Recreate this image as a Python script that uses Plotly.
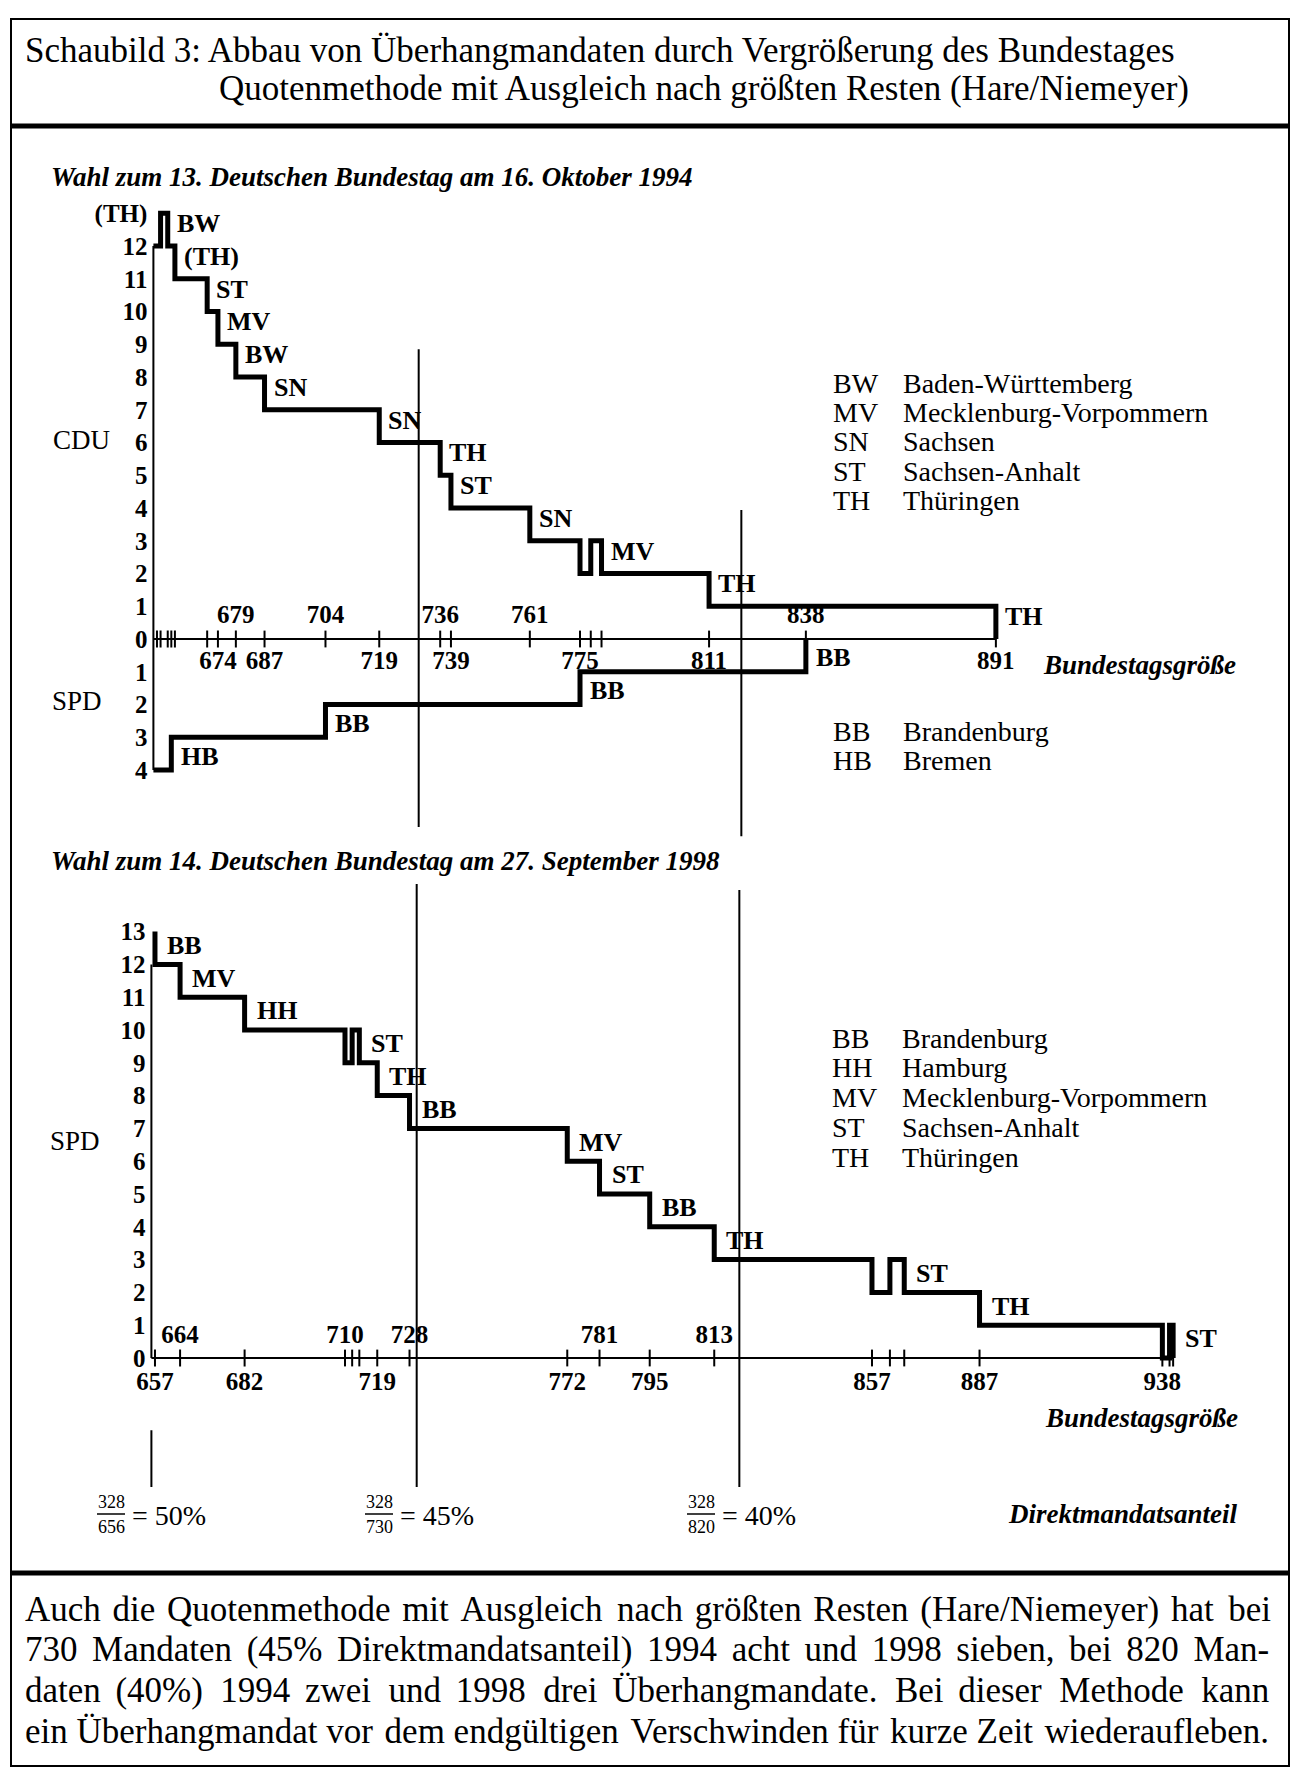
import plotly.graph_objects as go

OFF = 8                     # browser body margin
W, H = 1300 - OFF, 1777 - OFF
SERIF = "Liberation Serif"

# ---------------- data: 1994 (13. Bundestag) ----------------
cdu94_x = [656, 658, 660, 662, 671, 674, 679, 687, 719, 736, 739, 761, 775, 778, 781, 811, 891]
cdu94_y = [12, 13, 12, 11, 10, 9, 8, 7, 6, 5, 4, 3, 2, 3, 2, 1, 0]
spd94_x = [656, 661, 704, 775, 838]
spd94_y = [-4, -3, -2, -1, 0]

ticks94 = [657, 658, 660, 661, 662, 671, 674, 679, 687, 704, 719, 736, 739,
           761, 775, 778, 781, 811, 838, 891]
ticklab94_above = [679, 704, 736, 761, 838]
ticklab94_below = [674, 687, 719, 739, 775, 811, 891]

cdu94_lab_x = [660, 662, 671, 674, 679, 687, 719, 736, 739, 761, 781, 811, 891]
cdu94_lab_lvl = [13, 12, 11, 10, 9, 8, 7, 6, 5, 4, 3, 2, 1]
cdu94_lab = ["BW", "(TH)", "ST", "MV", "BW", "SN", "SN", "TH", "ST", "SN", "MV", "TH", "TH"]

spd94_lab_x = [661, 704, 775, 838]
spd94_lab_lvl = [-3, -2, -1, 0]
spd94_lab = ["HB", "BB", "BB", "BB"]

yvals94 = [13, 12, 11, 10, 9, 8, 7, 6, 5, 4, 3, 2, 1, 0, -1, -2, -3, -4]
ytext94 = ["(TH)", "12", "11", "10", "9", "8", "7", "6", "5", "4", "3", "2", "1", "0",
           "1", "2", "3", "4"]

legend94_abbr = ["BW", "MV", "SN", "ST", "TH"]
legend94_name = ["Baden-Württemberg", "Mecklenburg-Vorpommern", "Sachsen",
                 "Sachsen-Anhalt", "Thüringen"]
legend94_spd_abbr = ["BB", "HB"]
legend94_spd_name = ["Brandenburg", "Bremen"]

# reference lines (Bundestag size, y-extent) 1994
ref94_x = [730, 820]
ref94_top = [8.85, 3.94]
ref94_bot = [-5.74, -6.02]

# ---------------- data: 1998 (14. Bundestag) ----------------
spd98_x = [657, 657, 664, 682, 710, 712, 714, 719, 728, 772, 781, 795, 813,
           857, 862, 866, 887, 938, 940, 941]
spd98_y = [13, 12, 11, 10, 9, 10, 9, 8, 7, 6, 5, 4, 3, 2, 3, 2, 1, 0, 1, 0]

ticks98 = [657, 664, 682, 710, 712, 714, 719, 728, 772, 781, 795, 813,
           857, 862, 866, 887, 938, 940, 941]
ticklab98_above = [664, 710, 728, 781, 813]
ticklab98_below = [657, 682, 719, 772, 795, 857, 887, 938]

spd98_lab_x = [657, 664, 682, 714, 719, 728, 772, 781, 795, 813, 866, 887, 941]
spd98_lab_lvl = [13, 12, 11, 10, 9, 8, 7, 6, 5, 4, 3, 2, 1]
spd98_lab = ["BB", "MV", "HH", "ST", "TH", "BB", "MV", "ST", "BB", "TH", "ST", "TH", "ST"]

yvals98 = list(range(13, -1, -1))
ytext98 = [str(v) for v in yvals98]

legend98_abbr = ["BB", "HH", "MV", "ST", "TH"]
legend98_name = ["Brandenburg", "Hamburg", "Mecklenburg-Vorpommern",
                 "Sachsen-Anhalt", "Thüringen"]

ref98_x = [656, 730, 820]
ref98_top = [-2.2, 14.45, 14.27]
ref98_bot = [-3.93, -3.93, -3.93]

# Direktmandatsanteil fractions
frac_num = ["328", "328", "328"]
frac_den = ["656", "730", "820"]
frac_pct = ["50%", "45%", "40%"]

title_lines = ["Schaubild 3: Abbau von Überhangmandaten durch Vergrößerung des Bundestages",
               "Quotenmethode mit Ausgleich nach größten Resten (Hare/Niemeyer)"]
para_lines = [
    "Auch die Quotenmethode mit Ausgleich nach größten Resten (Hare/Niemeyer) hat bei",
    "730 Mandaten (45% Direktmandatsanteil) 1994 acht und 1998 sieben, bei 820 Man-",
    "daten (40%) 1994 zwei und 1998 drei Überhangmandate.  Bei dieser Methode kann",
    "ein Überhangmandat vor dem endgültigen Verschwinden für kurze Zeit wiederaufleben.",
]
# total extra hair spaces per line, spread over word gaps (imitates justification)
para_extra = [12, 22, 28, 4]

# ---------------- layout geometry (page pixels) ----------------
XPX = 3.585             # px per seat
X0_94, X0_98 = 153.4, 151.4   # page pixel of x=656
XR = [654, 960]
Y0_94, YU_94, YR_94 = 639.0, 32.75, [-7, 14]
Y0_98, YU_98, YR_98 = 1358.0, 32.8, [-5, 15]


def px(p):
    return (p - OFF) / W


def py(p):
    return 1 - (p - OFF) / H


def xdom(x0):
    return [px(x0 + (XR[0] - 656) * XPX), px(x0 + (XR[1] - 656) * XPX)]


def ydom(y0, yu, yr):
    return [py(y0 - yr[0] * yu), py(y0 - yr[1] * yu)]


fig = go.Figure()

BLK = "black"
THICK = 5
THIN = 2


def line(xs, ys, ax, width, shape="linear"):
    fig.add_trace(go.Scatter(x=xs, y=ys, mode="lines", line=dict(color=BLK, width=width, shape=shape),
                             xaxis=ax[0], yaxis=ax[1], hoverinfo="skip", showlegend=False))


A94 = ("x", "y")
A98 = ("x2", "y2")

# axes lines
line([656, 656], [12, -4], A94, THIN)
line([656, max(cdu94_x)], [0, 0], A94, THIN)
line([656, 656], [12, 0], A98, THIN)
line([656, max(spd98_x)], [0, 0], A98, THIN)

# reference lines
for xv, t, b in zip(ref94_x, ref94_top, ref94_bot):
    line([xv, xv], [t, b], A94, THIN)
for xv, t, b in zip(ref98_x, ref98_top, ref98_bot):
    line([xv, xv], [t, b], A98, THIN)

# step lines
line(cdu94_x, cdu94_y, A94, THICK, "hv")
line(spd94_x, spd94_y, A94, THICK, "hv")
line(spd98_x, spd98_y, A98, THICK, "hv")

# tick marks
for tks, ax in ((ticks94, A94), (ticks98, A98)):
    fig.add_trace(go.Scatter(x=tks, y=[0] * len(tks), mode="markers",
                             marker=dict(symbol="line-ns", size=12, color=BLK,
                                         line=dict(width=2, color=BLK)),
                             xaxis=ax[0], yaxis=ax[1], hoverinfo="skip", showlegend=False))

TICKFONT = dict(family=SERIF, size=25, color=BLK, weight="bold")
for labs, yoff, ax in ((ticklab94_above, 0.68, A94), (ticklab94_below, -0.72, A94),
                       (ticklab98_above, 0.64, A98), (ticklab98_below, -0.80, A98)):
    fig.add_trace(go.Scatter(x=labs, y=[yoff] * len(labs), mode="text",
                             text=[str(v) for v in labs], textposition="middle center",
                             textfont=TICKFONT, xaxis=ax[0], yaxis=ax[1],
                             hoverinfo="skip", showlegend=False, cliponaxis=False))

LABFONT = dict(family=SERIF, size=26, color=BLK, weight="bold")


def state_labels(xs, lvls, texts, dy, xref, yref, shift):
    for xv, lv, tx in zip(xs, lvls, texts):
        fig.add_annotation(x=xv, y=lv + dy, xref=xref, yref=yref, text=tx, showarrow=False,
                           xanchor="left", yanchor="middle", xshift=shift, font=LABFONT)


state_labels(cdu94_lab_x, cdu94_lab_lvl, cdu94_lab, -0.32, "x", "y", 7)
state_labels(spd94_lab_x, spd94_lab_lvl, spd94_lab, -0.58, "x", "y", 8)
state_labels(spd98_lab_x, spd98_lab_lvl, spd98_lab, -0.42, "x2", "y2", 10)


def ptext(x, y, text, size, anchor="left", weight="normal", style="normal", family=SERIF):
    fig.add_annotation(x=px(x), y=py(y), xref="paper", yref="paper", text=text, showarrow=False,
                       xanchor=anchor, yanchor="middle",
                       font=dict(family=family, size=size, color=BLK, weight=weight, style=style))


# titles
ptext(23, 51, title_lines[0], 35)
ptext(217, 89, title_lines[1], 35)
ptext(49, 177, "Wahl zum 13. Deutschen Bundestag am 16. Oktober 1994", 27,
      weight="bold", style="italic")
ptext(49, 861, "Wahl zum 14. Deutschen Bundestag am 27. September 1998", 27,
      weight="bold", style="italic")

# party labels
ptext(81, 440, "CDU", 27, anchor="center")
ptext(77, 701, "SPD", 27, anchor="center")
ptext(75, 1141, "SPD", 27, anchor="center")

# legends
for i, (a, n) in enumerate(zip(legend94_abbr, legend94_name)):
    ptext(831, 383 + i * 29.5, a, 28)
    ptext(901, 383 + i * 29.5, n, 28)
for i, (a, n) in enumerate(zip(legend94_spd_abbr, legend94_spd_name)):
    ptext(831, 731 + i * 29.5, a, 28)
    ptext(901, 731 + i * 29.5, n, 28)
for i, (a, n) in enumerate(zip(legend98_abbr, legend98_name)):
    ptext(830, 1038 + i * 29.8, a, 28)
    ptext(900, 1038 + i * 29.8, n, 28)

# axis titles
ptext(1041, 665, "Bundestagsgröße", 27, weight="bold", style="italic")
ptext(1240, 1418, "Bundestagsgröße", 27, anchor="right", weight="bold", style="italic")
ptext(1240, 1514, "Direktmandatsanteil", 27, anchor="right", weight="bold", style="italic")

# fractions
frac_cx = [111, 379, 701]
for cx, n, d, p in zip(frac_cx, frac_num, frac_den, frac_pct):
    ptext(cx, 1502, n, 18, anchor="center")
    ptext(cx, 1527, d, 18, anchor="center")
    fig.add_shape(type="line", xref="paper", yref="paper", x0=px(cx - 14), x1=px(cx + 14),
                  y0=py(1514), y1=py(1514), line=dict(color=BLK, width=1.5))
    ptext(cx + 19, 1515, "= " + p, 28)

# paragraph (imitated justification)
for i, (t, n) in enumerate(zip(para_lines, para_extra)):
    words = t.replace("  ", " ").split(" ")
    g = len(words) - 1
    out = words[0]
    for j in range(g):
        k = (j + 1) * n // g - j * n // g
        out += " " + "\u200a" * k + words[j + 1]
    ptext(23, 1609 + i * 40.7, out, 35)

# frame and rules
fig.add_shape(type="rect", xref="paper", yref="paper", x0=px(11), x1=px(1289), y0=py(19), y1=py(1766),
              line=dict(color=BLK, width=2))
fig.add_shape(type="line", xref="paper", yref="paper", x0=px(11), x1=px(1289), y0=py(126), y1=py(126),
              line=dict(color=BLK, width=5))
fig.add_shape(type="line", xref="paper", yref="paper", x0=px(11), x1=px(1289), y0=py(1573), y1=py(1573),
              line=dict(color=BLK, width=5))

noax = dict(visible=False, showgrid=False, zeroline=False, range=XR, fixedrange=True)
fig.update_layout(
    width=W, height=H, margin=dict(l=0, r=0, t=0, b=0),
    paper_bgcolor="white", plot_bgcolor="rgba(0,0,0,0)",
    showlegend=False,
    xaxis=dict(noax, domain=xdom(X0_94), anchor="y"),
    xaxis2=dict(noax, domain=xdom(X0_98), anchor="y2"),
    yaxis=dict(domain=ydom(Y0_94, YU_94, YR_94), range=YR_94, anchor="free", position=px(X0_94),
               showgrid=False, zeroline=False, showline=False, ticks="",
               tickmode="array", tickvals=yvals94, ticktext=ytext94, tickfont=TICKFONT,
               ticklabelstandoff=6, fixedrange=True),
    yaxis2=dict(domain=ydom(Y0_98, YU_98, YR_98), range=YR_98, anchor="free", position=px(X0_98),
                showgrid=False, zeroline=False, showline=False, ticks="",
                tickmode="array", tickvals=yvals98, ticktext=ytext98, tickfont=TICKFONT,
                ticklabelstandoff=6, fixedrange=True),
)

fig.write_html("out.html", config={"displayModeBar": False})
